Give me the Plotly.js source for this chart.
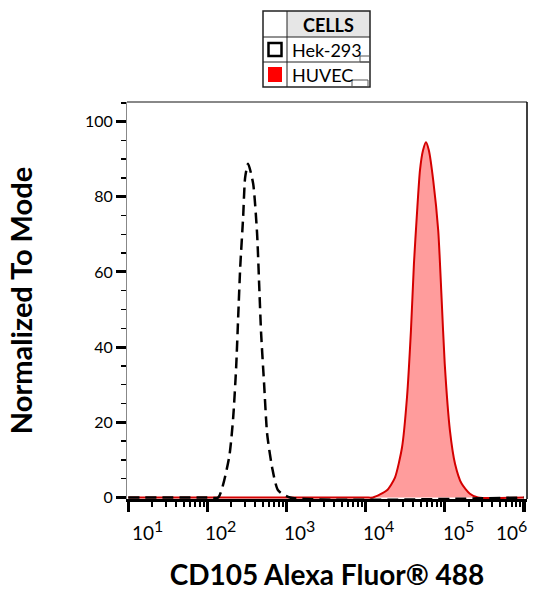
<!DOCTYPE html>
<html lang="en">

<head>
    <meta charset="UTF-8">
    <script src="https://cdn.plot.ly/plotly-3.0.1.min.js"></script>
    <title>CD105 histogram</title>
    <style>
        body { margin: 0; background: #fff; }
    </style>
</head>

<body>
    <div id="chart" style="width:540px;height:600px;"></div>

    <script>
        // Hek-293 (dashed, unfilled)
        var hek_x = [10, 100, 137, 188, 212, 231, 245, 260, 283, 300, 327, 379, 425, 451, 478, 521, 569, 658, 783, 1109, 1000000]
        var hek_y = [0, 0, 0, 10.6, 21.3, 34.6, 47.9, 61.2, 74.5, 85.1, 88.8, 83.5, 70.2, 56.9, 43.6, 30.3, 17.0, 8.0, 1.9, 0, 0]

        // HUVEC (red, filled)
        var huvec_x = [10, 10000, 12390, 18620, 23500, 28840, 33340, 37410, 40830, 44570, 48640, 53090, 57940, 63100, 71610, 82790, 91200, 100000, 116400, 134900, 163300, 208000, 263000, 1000000]
        var huvec_y = [0, 0, 0, 1.9, 5.3, 13.3, 26.6, 44.4, 62.2, 75.5, 87, 92.3, 94.5, 92.3, 84.3, 71, 53.2, 35.6, 17.8, 9, 3.7, 1, 0, 0]

        var decades = [10, 100, 1000, 10000, 100000, 1000000]
        var decade_exp = ['1', '2', '3', '4', '5', '6']
        var y_ticks = [0, 20, 40, 60, 80, 100]

        var legend_title = 'CELLS'
        var legend_names = ['Hek-293', 'HUVEC']

        // plot box in page pixels
        var L = 127, R = 527, T = 102, B = 499
        function px(x) { return (x - L) / (R - L) }
        function py(y) { return (B - y) / (B - T) }

        var minor_vals = []
        for (var d = 1; d < 6; d++) {
            for (var k = 2; k < 10; k++) minor_vals.push(k * Math.pow(10, d))
        }

        var traces = [{
            x: huvec_x,
            y: huvec_y,
            type: 'scatter',
            mode: 'lines',
            line: { color: '#d40000', width: 2, shape: 'spline', smoothing: 0.6 },
            fill: 'tozeroy',
            fillcolor: '#ff9c9c',
            showlegend: false
        }, {
            x: hek_x,
            y: hek_y,
            type: 'scatter',
            mode: 'lines',
            line: { color: '#000', width: 2.5, dash: '11px,6px', shape: 'spline', smoothing: 0.6 },
            showlegend: false
        }]

        var shapes = [
            // frame top and right
            { type: 'line', xref: 'paper', yref: 'paper', x0: 0, x1: 1, y0: 1, y1: 1, line: { color: '#888', width: 2 } },
            { type: 'line', xref: 'paper', yref: 'paper', x0: 1, x1: 1, y0: 0, y1: 1, line: { color: '#000', width: 1.5 } },
            // legend table
            { type: 'rect', xref: 'paper', yref: 'paper', x0: px(287), x1: px(370), y0: py(11), y1: py(37), fillcolor: '#e6e6e6', line: { width: 0 } },
            { type: 'rect', xref: 'paper', yref: 'paper', x0: px(263), x1: px(370), y0: py(11), y1: py(87), line: { color: '#222', width: 1.5 } },
            { type: 'line', xref: 'paper', yref: 'paper', x0: px(287), x1: px(287), y0: py(11), y1: py(87), line: { color: '#222', width: 1 } },
            { type: 'line', xref: 'paper', yref: 'paper', x0: px(263), x1: px(370), y0: py(37), y1: py(37), line: { color: '#222', width: 1 } },
            { type: 'line', xref: 'paper', yref: 'paper', x0: px(263), x1: px(370), y0: py(62), y1: py(62), line: { color: '#222', width: 1 } },
            { type: 'rect', xref: 'paper', yref: 'paper', x0: px(268.5), x1: px(281.5), y0: py(43), y1: py(56), line: { color: '#000', width: 2.5 } },
            { type: 'rect', xref: 'paper', yref: 'paper', x0: px(268), x1: px(282), y0: py(67), y1: py(82), fillcolor: '#ff0000', line: { width: 0 } },
            { type: 'rect', xref: 'paper', yref: 'paper', x0: px(360), x1: px(370), y0: py(56), y1: py(62), line: { color: '#555', width: 1 } },
            { type: 'rect', xref: 'paper', yref: 'paper', x0: px(352), x1: px(368), y0: py(80), y1: py(87), line: { color: '#555', width: 1 } }
        ]

        var annotations = [
            { xref: 'paper', yref: 'paper', x: px(328), y: py(24.5), xanchor: 'center', yanchor: 'middle',
              text: '<b>' + legend_title + '</b>', showarrow: false,
              font: { family: 'Lato', size: 18, color: '#000' } },
            { xref: 'paper', yref: 'paper', x: px(290), y: py(50), xanchor: 'left', yanchor: 'middle',
              text: legend_names[0], showarrow: false,
              font: { family: 'Lato', size: 18, color: '#000' } },
            { xref: 'paper', yref: 'paper', x: px(290), y: py(75), xanchor: 'left', yanchor: 'middle',
              text: legend_names[1], showarrow: false,
              font: { family: 'Lato', size: 18, color: '#000' } }
        ]

        // x tick labels sit a bit right of their ticks, last one pulled inside
        var label_shift = [19, 13, 13, 13, 14, -12]
        for (var i = 0; i < decades.length; i++) {
            annotations.push({
                xref: 'x', yref: 'paper', x: Math.log10(decades[i]), y: py(514), xanchor: 'center', yanchor: 'top',
                xshift: label_shift[i],
                text: '10<sup><span style="font-size:16px">' + decade_exp[i] + '</span></sup>',
                showarrow: false,
                font: { family: 'Lato', size: 19, color: '#000' }
            })
        }

        var layout = {
            width: 540,
            height: 600,
            margin: { l: L, r: 540 - R, t: T, b: 600 - B, pad: 0 },
            paper_bgcolor: '#fff',
            plot_bgcolor: '#fff',
            font: { family: 'Lato', color: '#000' },
            xaxis: {
                type: 'log',
                range: [0.984, 6.04],
                tickmode: 'array',
                tickvals: decades,
                showticklabels: false,
                ticks: 'outside',
                ticklen: 10,
                tickwidth: 3.5,
                tickcolor: '#000',
                minor: { tickmode: 'array', tickvals: minor_vals, ticks: 'outside', ticklen: 5, tickwidth: 2, tickcolor: '#000' },
                showline: true,
                linecolor: '#000',
                linewidth: 3,
                showgrid: false,
                zeroline: false,
                layer: 'below traces',
                title: { text: '<b>CD105 Alexa Fluor® 488</b>', font: { family: 'Lato', size: 28, color: '#000' }, standoff: 55 },
                automargin: false
            },
            yaxis: {
                range: [-0.4, 105.2],
                tickmode: 'array',
                tickvals: y_ticks,
                ticks: 'outside',
                ticklen: 10,
                tickwidth: 3,
                tickcolor: '#000',
                tickfont: { family: 'Lato', size: 16, color: '#000' },
                minor: { dtick: 5, ticks: 'outside', ticklen: 5, tickwidth: 1.5, tickcolor: '#000' },
                showline: true,
                linecolor: '#888',
                linewidth: 1,
                showgrid: false,
                zeroline: false,
                layer: 'below traces',
                title: { text: '<b>Normalized To Mode</b>', font: { family: 'Lato', size: 29, color: '#000' }, standoff: 43 },
                automargin: false
            },
            shapes: shapes,
            annotations: annotations
        }

        Plotly.newPlot('chart', traces, layout, { displayModeBar: false, staticPlot: true })
    </script>
</body>

</html>
